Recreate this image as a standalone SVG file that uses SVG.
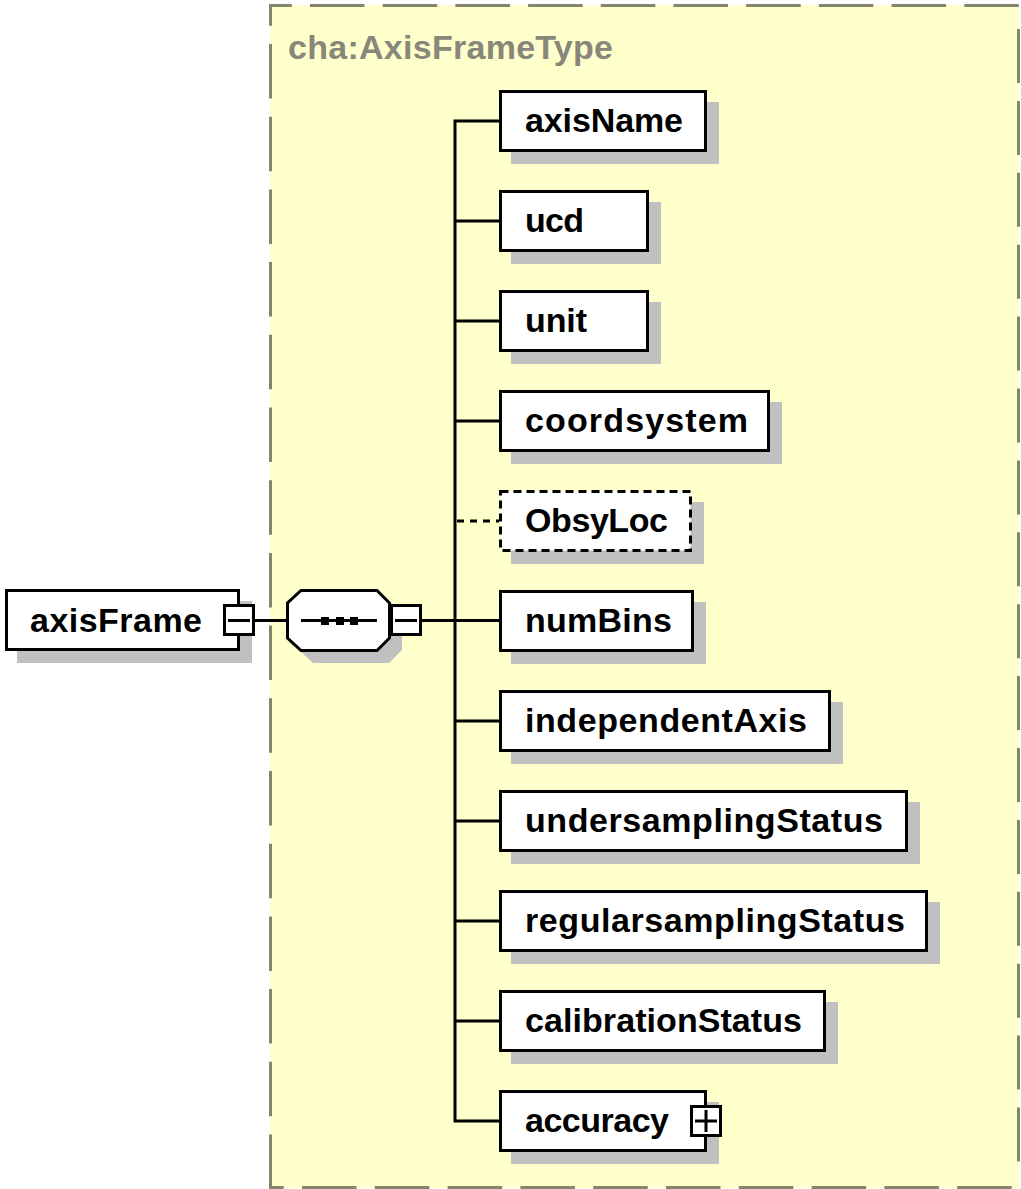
<svg xmlns="http://www.w3.org/2000/svg" width="1021" height="1189" viewBox="0 0 1021 1189">
<style>
  .lbl { font-family: "Liberation Sans", Arial, sans-serif; font-weight: bold; font-size: 34px; fill: #000; }
  .ttl { font-family: "Liberation Sans", Arial, sans-serif; font-weight: bold; font-size: 34px; fill: #87877a; }
  .box { fill: #fff; stroke: #000; stroke-width: 3; }
  .opt { fill: #fff; stroke: #000; stroke-width: 3; stroke-dasharray: 8 5; }
  .shd { fill: #c0c0c0; }
  .ln { stroke: #000; stroke-width: 3; fill: none; }
  .brd { stroke: #84846f; stroke-width: 3; fill: none; }
</style>
<rect x="0" y="0" width="1021" height="1189" fill="#fff"/>

<g id="complexType">
  <rect x="270" y="5" width="749" height="1183" fill="#ffffcc"/>
  <line class="brd" x1="269" y1="5.5" x2="1020" y2="5.5" stroke-dasharray="54.5 18.2" stroke-dashoffset="31.7"/>
  <line class="brd" x1="1018.5" y1="29" x2="1018.5" y2="1162" stroke-dasharray="54 17.9"/>
  <line class="brd" x1="269" y1="1187.5" x2="1012" y2="1187.5" stroke-dasharray="54.5 18.3" stroke-dashoffset="39.8"/>
  <line class="brd" x1="270.5" y1="1189" x2="270.5" y2="4" stroke-dasharray="54.5 18.2"/>
  <text class="ttl" x="288" y="59" textLength="325">cha:AxisFrameType</text>
</g>

<g id="connectors">
  <line class="ln" x1="255" y1="620.5" x2="288" y2="620.5"/>
  <line class="ln" x1="422" y1="620.5" x2="499" y2="620.5"/>
  <path class="ln" d="M499,121 H455 V1121 H499"/>
  <line class="ln" x1="455" y1="221" x2="499" y2="221"/>
  <line class="ln" x1="455" y1="321" x2="499" y2="321"/>
  <line class="ln" x1="455" y1="421" x2="499" y2="421"/>
  <line class="ln" x1="457" y1="521" x2="499" y2="521" stroke-dasharray="7 6"/>
  <line class="ln" x1="455" y1="721" x2="499" y2="721"/>
  <line class="ln" x1="455" y1="821" x2="499" y2="821"/>
  <line class="ln" x1="455" y1="921" x2="499" y2="921"/>
  <line class="ln" x1="455" y1="1021" x2="499" y2="1021"/>
</g>

<g id="axisFrame">
  <rect class="shd" x="17" y="601" width="235" height="62"/>
  <rect class="box" x="6.5" y="590.5" width="232" height="59"/>
  <text class="lbl" x="30" y="632" textLength="172">axisFrame</text>
  <rect class="box" x="224.5" y="605.5" width="29" height="29"/>
  <line class="ln" x1="228" y1="620.5" x2="250" y2="620.5"/>
</g>

<g id="sequence">
  <polygon class="shd" points="313,601 389,601 402,615 402,650 389,663 313,663 299,650 299,615"/>
  <polygon class="box" points="301,590.5 377,590.5 389.5,603 389.5,638 377,650.5 301,650.5 287.5,638 287.5,603"/>
  <line class="ln" x1="301" y1="620.5" x2="377" y2="620.5"/>
  <rect x="321" y="617" width="8" height="8" fill="#000"/>
  <rect x="336" y="617" width="8" height="8" fill="#000"/>
  <rect x="350" y="617" width="8" height="8" fill="#000"/>
  <rect class="box" x="391.5" y="605.5" width="29" height="29"/>
  <line class="ln" x1="395" y1="620.5" x2="417" y2="620.5"/>
</g>

<g id="axisName">
  <rect class="shd" x="511" y="102" width="208" height="62"/>
  <rect class="box" x="500.5" y="91.5" width="205" height="59"/>
  <text class="lbl" x="525" y="132" textLength="158">axisName</text>
</g>
<g id="ucd">
  <rect class="shd" x="511" y="202" width="150" height="62"/>
  <rect class="box" x="500.5" y="191.5" width="147" height="59"/>
  <text class="lbl" x="525" y="232" textLength="59">ucd</text>
</g>
<g id="unit">
  <rect class="shd" x="511" y="302" width="150" height="62"/>
  <rect class="box" x="500.5" y="291.5" width="147" height="59"/>
  <text class="lbl" x="525" y="332" textLength="62">unit</text>
</g>
<g id="coordsystem">
  <rect class="shd" x="511" y="402" width="271" height="62"/>
  <rect class="box" x="500.5" y="391.5" width="268" height="59"/>
  <text class="lbl" x="525" y="432" textLength="223">coordsystem</text>
</g>
<g id="ObsyLoc">
  <rect class="shd" x="511" y="502" width="193" height="62"/>
  <rect class="opt" x="500.5" y="491.5" width="190" height="59"/>
  <text class="lbl" x="525" y="532" textLength="143">ObsyLoc</text>
</g>
<g id="numBins">
  <rect class="shd" x="511" y="602" width="195" height="62"/>
  <rect class="box" x="500.5" y="591.5" width="192" height="59"/>
  <text class="lbl" x="525" y="632" textLength="147">numBins</text>
</g>
<g id="independentAxis">
  <rect class="shd" x="511" y="702" width="332" height="62"/>
  <rect class="box" x="500.5" y="691.5" width="329" height="59"/>
  <text class="lbl" x="525" y="732" textLength="282">independentAxis</text>
</g>
<g id="undersamplingStatus">
  <rect class="shd" x="511" y="802" width="409" height="62"/>
  <rect class="box" x="500.5" y="791.5" width="406" height="59"/>
  <text class="lbl" x="525" y="832" textLength="358">undersamplingStatus</text>
</g>
<g id="regularsamplingStatus">
  <rect class="shd" x="511" y="902" width="429" height="62"/>
  <rect class="box" x="500.5" y="891.5" width="426" height="59"/>
  <text class="lbl" x="525" y="932" textLength="380">regularsamplingStatus</text>
</g>
<g id="calibrationStatus">
  <rect class="shd" x="511" y="1002" width="327" height="62"/>
  <rect class="box" x="500.5" y="991.5" width="324" height="59"/>
  <text class="lbl" x="525" y="1032" textLength="277">calibrationStatus</text>
</g>
<g id="accuracy">
  <rect class="shd" x="511" y="1102" width="208" height="62"/>
  <rect class="box" x="500.5" y="1091.5" width="205" height="59"/>
  <text class="lbl" x="525" y="1132" textLength="144">accuracy</text>
  <rect class="box" x="691.5" y="1106.5" width="29" height="29"/>
  <line class="ln" x1="695" y1="1121" x2="717" y2="1121"/>
  <line class="ln" x1="706" y1="1110" x2="706" y2="1132"/>
</g>
</svg>
